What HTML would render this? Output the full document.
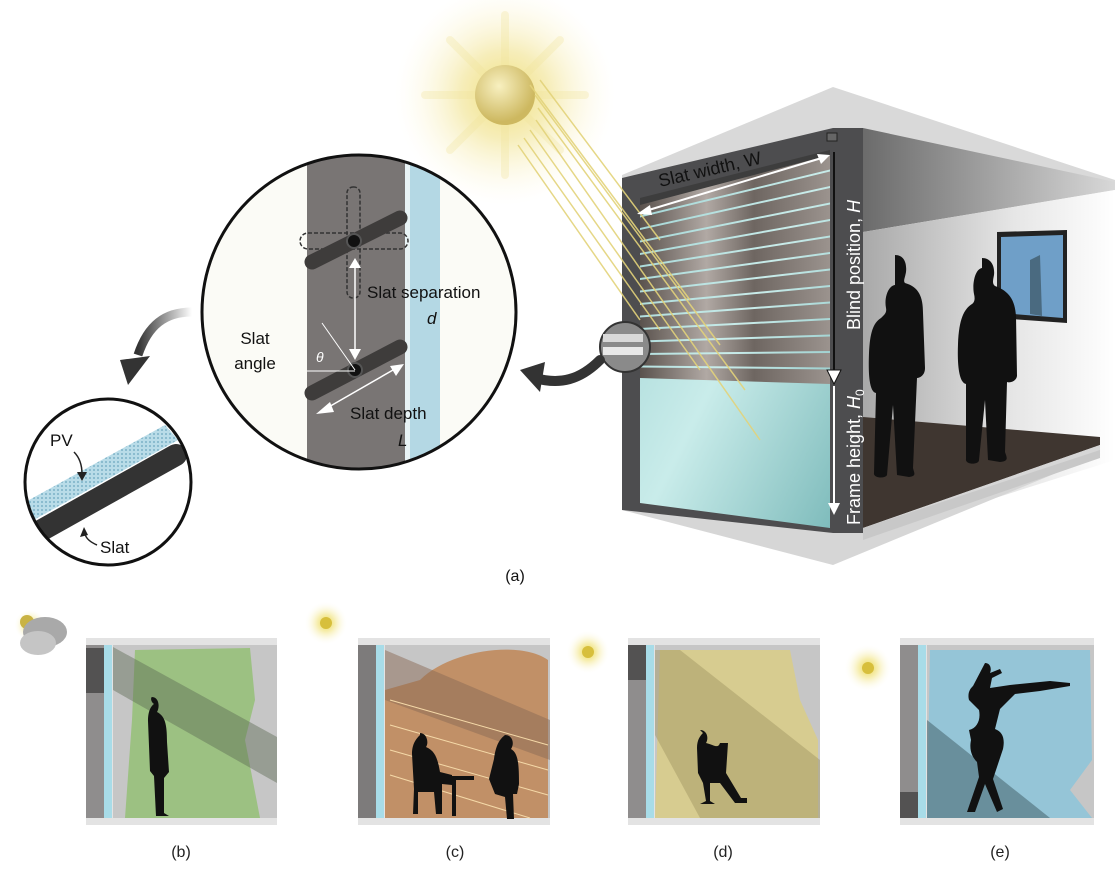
<!DOCTYPE html>
<html><head><meta charset="utf-8"><style>
html,body{margin:0;padding:0;background:#fff}
svg{display:block}
text{font-family:"Liberation Sans",Arial,sans-serif}
</style></head><body>
<svg width="1117" height="870" viewBox="0 0 1117 870" xmlns="http://www.w3.org/2000/svg">
<defs>
<radialGradient id="glow" cx="0.5" cy="0.5" r="0.5">
<stop offset="0" stop-color="#f0df7a" stop-opacity="1"/>
<stop offset="0.4" stop-color="#f4e9a8" stop-opacity="0.8"/>
<stop offset="1" stop-color="#fffbe8" stop-opacity="0"/>
</radialGradient>
<radialGradient id="ball" cx="0.4" cy="0.35" r="0.6">
<stop offset="0" stop-color="#f8f0c0"/><stop offset="1" stop-color="#cdb860"/>
</radialGradient>
<linearGradient id="ceil" x1="0" y1="0" x2="1" y2="0">
<stop offset="0" stop-color="#6b6b6b"/><stop offset="1" stop-color="#d8d8d8"/>
</linearGradient>
<linearGradient id="wall" x1="0" y1="0" x2="1" y2="0">
<stop offset="0" stop-color="#a9a9a9"/><stop offset="0.6" stop-color="#e6e6e6"/><stop offset="1" stop-color="#ffffff"/>
</linearGradient>
<linearGradient id="glass" x1="0" y1="0" x2="1" y2="1">
<stop offset="0" stop-color="#9fd3d3"/><stop offset="0.5" stop-color="#c9ecea"/><stop offset="1" stop-color="#7fbcbc"/>
</linearGradient>
<linearGradient id="slat" x1="0" y1="0" x2="1" y2="0">
<stop offset="0" stop-color="#5a524d"/><stop offset="0.35" stop-color="#b1a9a4"/><stop offset="0.6" stop-color="#6e6661"/><stop offset="1" stop-color="#9b938e"/>
</linearGradient>
<linearGradient id="arrowfade" x1="0" y1="0" x2="1" y2="0">
<stop offset="0" stop-color="#333"/><stop offset="1" stop-color="#333" stop-opacity="0"/>
</linearGradient>
<pattern id="dots" width="4" height="4" patternUnits="userSpaceOnUse">
<rect width="4" height="4" fill="#b9dce8"/><circle cx="2" cy="2" r="0.9" fill="#6aa6bd"/>
</pattern>
<clipPath id="mag"><circle cx="359" cy="312" r="157"/></clipPath>
<clipPath id="smc"><circle cx="108" cy="482" r="83"/></clipPath>
<radialGradient id="sglow" cx="0.5" cy="0.5" r="0.5">
<stop offset="0" stop-color="#e8d44a"/><stop offset="0.4" stop-color="#f3e78f" stop-opacity="0.7"/><stop offset="1" stop-color="#fff" stop-opacity="0"/>
</radialGradient>
</defs>

<!-- main sun -->
<circle cx="505" cy="95" r="110" fill="url(#glow)"/>
<g stroke="#f1e49a" stroke-width="8" opacity="0.3" stroke-linecap="round">
<line x1="505" y1="15" x2="505" y2="175"/><line x1="425" y1="95" x2="585" y2="95"/>
<line x1="450" y1="40" x2="560" y2="150"/><line x1="560" y1="40" x2="450" y2="150"/>
</g>
<circle cx="505" cy="95" r="30" fill="url(#ball)"/>

<!-- room -->
<polygon points="622,175 833,87 1115,180 1115,188 863,232 863,128 622,178" fill="#d9d9d9"/>
<polygon points="863,128 1115,182 1115,190 863,232" fill="url(#ceil)"/>
<polygon points="863,232 1115,190 1115,460 863,540" fill="url(#wall)"/>
<polygon points="863,417 1100,437 1100,445 863,528" fill="#3f3630"/>
<polygon points="863,528 1100,445 1100,455 833,565 622,510 640,505 833,533" fill="#d6d6d6"/>
<polygon points="863,528 1100,450 1100,458 863,540" fill="#c8c8c8"/>
<!-- frame -->
<polygon points="622,178 833,128 863,128 863,533 833,533 622,510" fill="#4d4d4f"/>
<polygon points="640,200 830,152 830,528 640,503" fill="url(#glass)"/>
<polygon points="640,198 830,150 830,157 640,206" fill="#3d3d3d"/>
<!-- slats -->
<g fill="url(#slat)">
<polygon points="640,205 830,155 830,169.5 640,215.5"/>
<polygon points="640,217.5 830,171.5 830,186 640,228"/>
<polygon points="640,230 830,188 830,202.5 640,240.5"/>
<polygon points="640,242.5 830,204.5 830,219 640,253"/>
<polygon points="640,255 830,221 830,235.5 640,265.5"/>
<polygon points="640,267.5 830,237.5 830,252 640,278"/>
<polygon points="640,280 830,254 830,268.5 640,290.5"/>
<polygon points="640,292.5 830,270.5 830,285 640,303"/>
<polygon points="640,305 830,287 830,301.5 640,315.5"/>
<polygon points="640,317.5 830,303.5 830,318 640,328"/>
<polygon points="640,330 830,320 830,334.5 640,340.5"/>
<polygon points="640,342.5 830,336.5 830,351 640,353"/>
<polygon points="640,355 830,353 830,367.5 640,365.5"/>
<polygon points="640,367.5 830,369.5 830,384 640,378"/>
</g>
<!-- sun rays -->
<g stroke="#e3d37a" stroke-width="1.5" opacity="0.9">
<line x1="530" y1="85" x2="690" y2="300"/>
<line x1="535" y1="95" x2="720" y2="345"/>
<line x1="538" y1="108" x2="745" y2="390"/>
<line x1="536" y1="120" x2="760" y2="440"/>
<line x1="530" y1="130" x2="700" y2="370"/>
<line x1="524" y1="138" x2="660" y2="330"/>
<line x1="540" y1="80" x2="660" y2="240"/>
<line x1="518" y1="145" x2="640" y2="320"/>
</g>
<!-- room small circle -->
<circle cx="625" cy="347" r="25" fill="#8a8a8a" stroke="#333" stroke-width="2"/>
<rect x="603" y="334" width="40" height="8" fill="#d8d8d8"/>
<rect x="603" y="347" width="40" height="8" fill="#e8e8e8"/>
<!-- TV -->
<polygon points="997,232 1067,230 1067,323 997,318" fill="#222"/>
<polygon points="1001,237 1063,235 1063,318 1001,313" fill="#6f9fc8"/>
<polygon points="1030,260 1040,255 1042,316 1030,314" fill="#4a6a80"/>
<!-- people -->
<path d="M895,255 c9,0 12,8 11,17 c-1,6 -3,9 -1,11 c14,4 18,14 18,30 l2,55 c0,8 -6,10 -8,10 l-4,90 c1,5 4,8 -4,9 l-12,-2 l-4,-70 l-6,70 c-2,4 -14,3 -13,-2 l2,-80 c-6,-1 -8,-15 -7,-40 c1,-20 4,-30 12,-35 c3,-3 6,-5 5,-10 c-2,-10 2,-22 9,-23z" fill="#111"/>
<path d="M982,258 c9,0 13,8 12,17 c-1,5 -2,9 1,11 c14,5 20,14 21,30 l1,60 c-1,6 -8,7 -10,6 l-2,70 c2,6 4,9 -5,10 l-12,-2 l-3,-60 l-6,60 c0,5 -14,5 -13,-1 l0,-75 c-6,-1 -9,-15 -8,-40 c1,-25 6,-35 14,-40 c3,-2 3,-6 2,-10 c-2,-10 1,-25 8,-26z" fill="#111"/>
<!-- room arrows -->
<g stroke="#fff" stroke-width="2" fill="#fff">
<line x1="642" y1="212" x2="825" y2="157"/>
<polygon points="637,214 650,205 652,215" stroke="none"/>
<polygon points="830,155 817,154 821,164" stroke="none"/>
</g>
<line x1="834" y1="152" x2="834" y2="372" stroke="#111" stroke-width="2"/>
<polygon points="827,370 841,370 834,384" fill="#fff" stroke="#111"/>
<line x1="834" y1="386" x2="834" y2="505" stroke="#fff" stroke-width="2"/>
<polygon points="828,503 840,503 834,515" fill="#fff"/>
<rect x="827" y="133" width="10" height="8" fill="#666" stroke="#222"/>
<text transform="translate(660,187) rotate(-13)" font-size="18" fill="#111">Slat width, W</text>
<text transform="translate(860,330) rotate(-90)" font-size="18" fill="#fff">Blind position, <tspan font-style="italic">H</tspan></text>
<text transform="translate(860,525) rotate(-90)" font-size="18" fill="#fff">Frame height, <tspan font-style="italic">H</tspan><tspan font-size="12" dy="4">0</tspan></text>

<!-- curved arrow toward magnified circle -->
<path d="M600,360 C580,380 560,385 535,378" stroke="#333" stroke-width="10" fill="none" stroke-linecap="round"/>
<polygon points="520,370 545,362 540,392" fill="#333"/>

<!-- magnified circle -->
<circle cx="359" cy="312" r="157" fill="#fff"/>
<g clip-path="url(#mag)">
<rect x="200" y="150" width="320" height="330" fill="#fbfbf6"/>
<rect x="307" y="150" width="98" height="330" fill="#797574"/>
<rect x="405" y="150" width="5" height="330" fill="#e8f3f5"/>
<rect x="410" y="150" width="30" height="330" fill="#b4d8e4"/>
</g>
<rect x="300" y="233" width="108" height="16" rx="8" fill="none" stroke="#333" stroke-width="1.5" stroke-dasharray="4,2"/>
<rect x="347" y="187" width="13" height="111" rx="6" fill="none" stroke="#333" stroke-width="1.5" stroke-dasharray="4,2"/>
<line x1="312" y1="262" x2="400" y2="218" stroke="#3e3c3b" stroke-width="15" stroke-linecap="round"/>
<circle cx="354" cy="241" r="7" fill="#111" stroke="#555" stroke-width="2"/>
<line x1="312" y1="393" x2="400" y2="347" stroke="#3e3c3b" stroke-width="15" stroke-linecap="round"/>
<circle cx="355" cy="370" r="7" fill="#111" stroke="#555" stroke-width="2"/>
<line x1="355" y1="264" x2="355" y2="355" stroke="#fff" stroke-width="1.5"/>
<polygon points="349,268 361,268 355,258" fill="#fff"/>
<polygon points="349,349 361,349 355,360" fill="#fff"/>
<line x1="320" y1="412" x2="400" y2="366" stroke="#fff" stroke-width="1.5"/>
<polygon points="316,414 330,402 334,412" fill="#fff"/>
<polygon points="404,364 390,366 396,376" fill="#fff"/>
<line x1="322" y1="323" x2="355" y2="370" stroke="#fff" stroke-width="1"/>
<line x1="307" y1="371" x2="355" y2="371" stroke="#fff" stroke-width="1"/>
<text x="316" y="362" font-size="14" font-style="italic" fill="#fff">θ</text>
<text x="367" y="298" font-size="17" fill="#111">Slat separation</text>
<text x="427" y="324" font-size="17" font-style="italic" fill="#111">d</text>
<text x="255" y="344" font-size="17" fill="#111" text-anchor="middle">Slat</text>
<text x="255" y="369" font-size="17" fill="#111" text-anchor="middle">angle</text>
<text x="350" y="419" font-size="17" fill="#111">Slat depth</text>
<text x="398" y="446" font-size="17" font-style="italic" fill="#111">L</text>
<circle cx="359" cy="312" r="157" fill="none" stroke="#111" stroke-width="3"/>

<!-- left curved arrow -->
<path d="M192,312 C165,312 148,325 138,355" stroke="url(#arrowfade)" stroke-width="9" fill="none"/>
<polygon points="120,360 150,356 128,385" fill="#333"/>

<!-- small circle -->
<circle cx="108" cy="482" r="83" fill="#fff"/>
<g clip-path="url(#smc)">
<polygon points="20,505 165,425 178,440 30,522" fill="url(#dots)"/>
<line x1="42" y1="530" x2="176" y2="455" stroke="#333" stroke-width="22" stroke-linecap="round"/>
</g>
<circle cx="108" cy="482" r="83" fill="none" stroke="#111" stroke-width="3"/>
<text x="50" y="446" font-size="17" fill="#111">PV</text>
<path d="M74,452 C80,458 82,466 82,474" stroke="#222" stroke-width="1.5" fill="none"/>
<polygon points="77,472 87,472 82,481" fill="#222"/>
<text x="100" y="553" font-size="17" fill="#111">Slat</text>
<path d="M97,545 C90,542 86,538 85,534" stroke="#222" stroke-width="1.5" fill="none"/>
<polygon points="80,537 88,535 84,527" fill="#222"/>
<text x="515" y="581" font-size="16" fill="#111" text-anchor="middle">(a)</text>

<!-- bottom panels -->
<g>
<circle cx="30" cy="625" r="16" fill="url(#sglow)"/>
<circle cx="27" cy="622" r="7" fill="#c9b344"/>
<ellipse cx="45" cy="632" rx="22" ry="15" fill="#a9a9a9"/>
<ellipse cx="38" cy="643" rx="18" ry="12" fill="#c5c5c5"/>
<rect x="86" y="638" width="191" height="187" fill="#e3e3e3"/>
<rect x="113" y="645" width="164" height="173" fill="#c6c6c6"/>
<path d="M135,650 L250,648 L255,700 L245,740 L260,818 L125,818 L132,720 Z" fill="#97c07a" opacity="0.9"/>
<polygon points="113,647 113,690 277,783 277,737" fill="#5e6b55" opacity="0.45"/>
<rect x="86" y="645" width="18" height="173" fill="#8f8d8d"/>
<rect x="86" y="648" width="18" height="45" fill="#444" opacity="0.8"/>
<rect x="104" y="645" width="8" height="173" fill="#a8dce8"/>
<path d="M152,697 c7,0 8,10 5,15 c8,4 10,12 10,30 l2,30 l-5,6 l0,35 l5,3 l-13,0 l-2,-40 l-4,-5 l-2,-50 c0,-10 3,-15 6,-17 c-4,-3 -3,-7 -2,-7z" fill="#111"/>
<text x="181" y="857" font-size="16" fill="#222" text-anchor="middle">(b)</text>
</g>
<g>
<circle cx="326" cy="623" r="22" fill="url(#sglow)"/>
<circle cx="326" cy="623" r="6" fill="#d7bf3c"/>
<rect x="358" y="638" width="192" height="187" fill="#e3e3e3"/>
<rect x="385" y="645" width="165" height="173" fill="#c6c6c6"/>
<path d="M420,680 C450,650 520,640 548,660 L548,818 L385,818 L385,690 Z" fill="#c08a5c" opacity="0.9"/>
<polygon points="385,650 385,700 550,760 550,720" fill="#8a6a55" opacity="0.5"/>
<g stroke="#f5d9a8" stroke-width="1"><line x1="390" y1="700" x2="548" y2="745"/><line x1="390" y1="725" x2="548" y2="770"/><line x1="390" y1="750" x2="548" y2="795"/><line x1="390" y1="775" x2="530" y2="818"/></g>
<rect x="358" y="645" width="18" height="173" fill="#7d7b7b"/>
<rect x="376" y="645" width="8" height="173" fill="#a8dce8"/>
<path d="M420,733 c7,0 9,10 6,14 c10,4 12,14 14,25 l12,3 l0,10 l-10,-1 l0,30 l-6,0 l-2,-22 l-16,0 l0,22 l-5,0 l1,-25 l-2,-35 c0,-10 4,-15 8,-19z" fill="#111"/>
<rect x="438" y="776" width="36" height="4" fill="#111"/>
<rect x="452" y="780" width="4" height="36" fill="#111"/>
<path d="M505,735 c7,0 10,8 6,14 c7,4 8,14 8,35 l-2,10 l-4,0 l1,25 l-7,0 l-2,-22 l-10,-3 l-6,-15 l5,-20 c2,-15 6,-20 11,-24z" fill="#111"/>
<text x="455" y="857" font-size="16" fill="#222" text-anchor="middle">(c)</text>
</g>
<g>
<circle cx="588" cy="652" r="22" fill="url(#sglow)"/>
<circle cx="588" cy="652" r="6" fill="#d7bf3c"/>
<rect x="628" y="638" width="192" height="187" fill="#e3e3e3"/>
<rect x="655" y="645" width="165" height="173" fill="#c6c6c6"/>
<path d="M660,650 L790,650 L800,700 L818,740 L818,818 L655,818 Z" fill="#d9cc86" opacity="0.85"/>
<polygon points="655,650 655,735 700,818 820,818 820,760 680,650" fill="#9e9360" opacity="0.45"/>
<rect x="628" y="645" width="18" height="173" fill="#8f8d8d"/>
<rect x="628" y="645" width="18" height="35" fill="#444" opacity="0.8"/>
<rect x="646" y="645" width="8" height="173" fill="#a8dce8"/>
<path d="M700,730 c7,0 9,8 6,13 c8,2 12,6 14,0 l8,0 l-2,30 l15,25 l6,0 l0,5 l-12,0 l-15,-20 l-10,0 l0,18 l5,3 l-15,0 l6,-3 l-3,-18 l-5,-10 l-1,-25 c0,-8 3,-12 6,-15z" fill="#111"/>
<text x="723" y="857" font-size="16" fill="#222" text-anchor="middle">(d)</text>
</g>
<g>
<circle cx="868" cy="668" r="24" fill="url(#sglow)"/>
<circle cx="868" cy="668" r="6" fill="#d7bf3c"/>
<rect x="900" y="638" width="194" height="187" fill="#e3e3e3"/>
<rect x="927" y="645" width="167" height="173" fill="#c6c6c6"/>
<path d="M930,650 L1090,650 L1092,760 L1070,790 L1092,818 L927,818 Z" fill="#8fc4d8" opacity="0.9"/>
<polygon points="927,720 927,818 1050,818" fill="#4d6a74" opacity="0.6"/>
<rect x="900" y="645" width="18" height="173" fill="#8f8d8d"/>
<rect x="900" y="792" width="18" height="26" fill="#444" opacity="0.8"/>
<rect x="918" y="645" width="8" height="173" fill="#a8dce8"/>
<path d="M985,663 c5,0 7,5 5,10 l10,-4 l2,4 l-10,5 l-2,10 l20,-3 l40,-4 l20,2 l0,3 l-30,5 l-25,3 l-15,15 l-5,20 c8,3 10,10 8,20 l-10,30 l10,30 l-6,3 l-12,-28 l-10,28 l-8,0 l12,-35 l-2,-15 c-5,-5 -8,-12 -6,-22 l-2,-10 c8,-2 12,-10 10,-20 l-10,-10 c-2,-8 2,-12 4,-14z" fill="#111"/>
<text x="1000" y="857" font-size="16" fill="#222" text-anchor="middle">(e)</text>
</g>
</svg>
</body></html>
